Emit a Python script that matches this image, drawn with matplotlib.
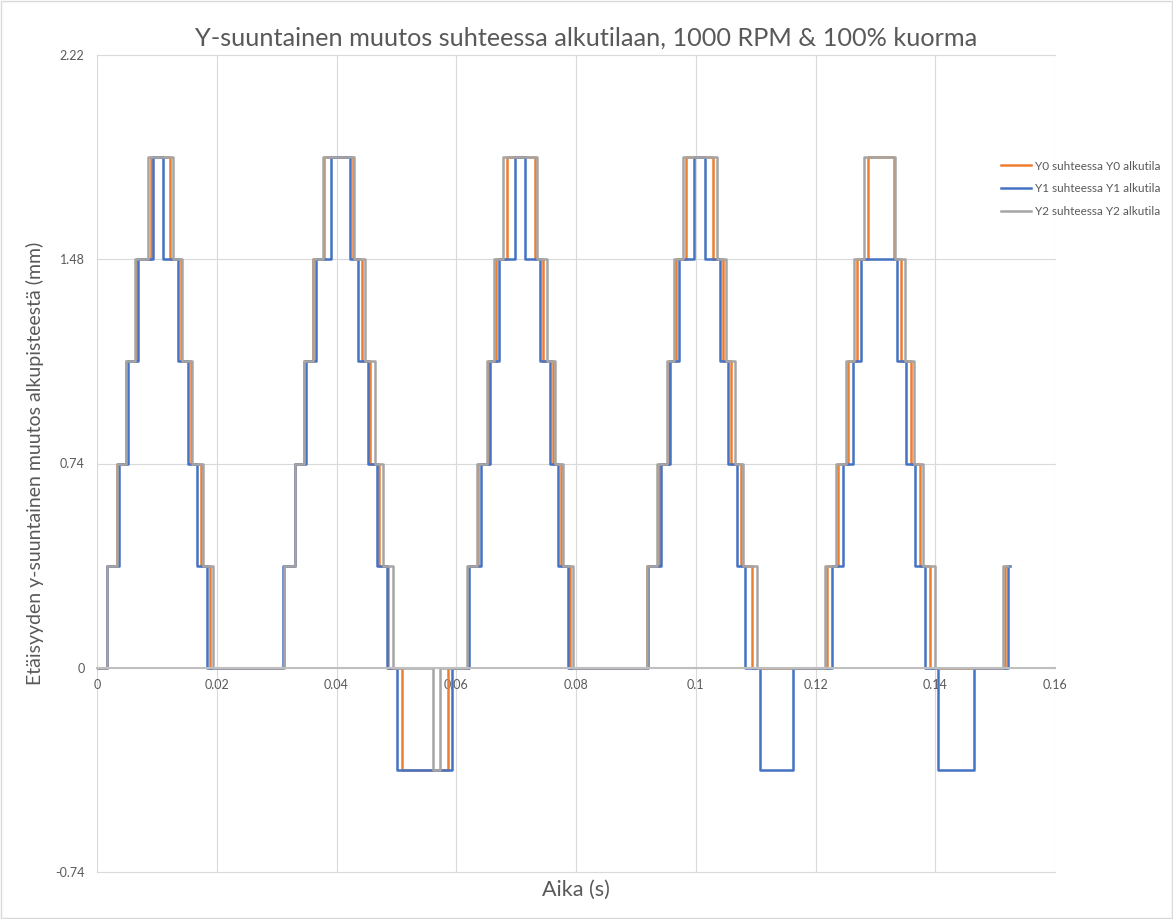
#!/usr/bin/env python3

import numpy as np
import matplotlib
matplotlib.use('Agg')
import matplotlib.pyplot as plt
from matplotlib.patches import Rectangle

# step change points (time in s) and the level that starts there (mm)
y0_t = [0, 0.00165, 0.0034, 0.0049, 0.00645, 0.00902, 0.01219, 0.01398, 0.01565, 0.01737, 0.01887,
        0.0312, 0.03307, 0.0346, 0.0361, 0.03796, 0.04281, 0.04421, 0.0456, 0.04715, 0.04865, 0.05089, 0.05867,
        0.06188, 0.06363, 0.0653, 0.06664, 0.06843, 0.07315, 0.07454, 0.07621, 0.0775, 0.079,
        0.09186, 0.09391, 0.09548, 0.0967, 0.09832, 0.10293, 0.1046, 0.10589, 0.10751, 0.10935,
        0.12187, 0.12381, 0.12538, 0.12688, 0.12872, 0.13311, 0.13428, 0.13595, 0.13745, 0.13912,
        0.15165, 0.1521]
y0_v = [0, 0.37, 0.74, 1.11, 1.48, 1.85, 1.48, 1.11, 0.74, 0.37, 0,
        0.37, 0.74, 1.11, 1.48, 1.85, 1.48, 1.11, 0.74, 0.37, 0, -0.37, 0,
        0.37, 0.74, 1.11, 1.48, 1.85, 1.48, 1.11, 0.74, 0.37, 0,
        0.37, 0.74, 1.11, 1.48, 1.85, 1.48, 1.11, 0.74, 0.37, 0,
        0.37, 0.74, 1.11, 1.48, 1.85, 1.48, 1.11, 0.74, 0.37, 0,
        0.37, 0.37]

y1_t = [0, 0.00162, 0.00372, 0.00523, 0.0068, 0.0094, 0.01097, 0.01358, 0.01525, 0.01675, 0.01832,
        0.03111, 0.03315, 0.0349, 0.03653, 0.03908, 0.04225, 0.04364, 0.04531, 0.04681, 0.04838, 0.05005, 0.05924,
        0.06218, 0.06408, 0.06564, 0.06719, 0.06981, 0.07148, 0.07399, 0.07566, 0.07704, 0.07871,
        0.09208, 0.09415, 0.0957, 0.09725, 0.09971, 0.10154, 0.10405, 0.10544, 0.10694, 0.10823, 0.11081, 0.11616,
        0.12271, 0.12454, 0.12621, 0.1276, 0.13356, 0.13511, 0.13662, 0.13829, 0.14051, 0.14647,
        0.1522, 0.1525]
y1_v = [0, 0.37, 0.74, 1.11, 1.48, 1.85, 1.48, 1.11, 0.74, 0.37, 0,
        0.37, 0.74, 1.11, 1.48, 1.85, 1.48, 1.11, 0.74, 0.37, 0, -0.37, 0,
        0.37, 0.74, 1.11, 1.48, 1.85, 1.48, 1.11, 0.74, 0.37, 0,
        0.37, 0.74, 1.11, 1.48, 1.85, 1.48, 1.11, 0.74, 0.37, 0, -0.37, 0,
        0.37, 0.74, 1.11, 1.48, 1.11, 0.74, 0.37, 0, -0.37, 0,
        0.37, 0.37]

y2_t = [0, 0.00162, 0.00329, 0.00479, 0.00635, 0.00857, 0.01264, 0.01415, 0.01582, 0.01775, 0.01932,
        0.03128, 0.03307, 0.03462, 0.03613, 0.0378, 0.04292, 0.04476, 0.04643, 0.04782, 0.04949, 0.05607, 0.05729,
        0.06175, 0.06352, 0.06509, 0.06636, 0.06786, 0.07354, 0.07511, 0.07649, 0.07788, 0.07945,
        0.09181, 0.09358, 0.09515, 0.09642, 0.09792, 0.1035, 0.10505, 0.10656, 0.10794, 0.11018,
        0.12159, 0.12342, 0.12504, 0.12648, 0.12815, 0.13328, 0.13495, 0.1365, 0.138, 0.13996,
        0.15137, 0.1521]
y2_v = [0, 0.37, 0.74, 1.11, 1.48, 1.85, 1.48, 1.11, 0.74, 0.37, 0,
        0.37, 0.74, 1.11, 1.48, 1.85, 1.48, 1.11, 0.74, 0.37, 0, -0.37, 0,
        0.37, 0.74, 1.11, 1.48, 1.85, 1.48, 1.11, 0.74, 0.37, 0,
        0.37, 0.74, 1.11, 1.48, 1.85, 1.48, 1.11, 0.74, 0.37, 0,
        0.37, 0.74, 1.11, 1.48, 1.85, 1.48, 1.11, 0.74, 0.37, 0,
        0.37, 0.37]

series_labels = ['Y0 suhteessa Y0 alkutila', 'Y1 suhteessa Y1 alkutila', 'Y2 suhteessa Y2 alkutila']
series_colors = ['#ED7D31', '#4472C4', '#A5A5A5']

x_ticks = [0, 0.02, 0.04, 0.06, 0.08, 0.1, 0.12, 0.14, 0.16]
x_tick_labels = ['0', '0.02', '0.04', '0.06', '0.08', '0.1', '0.12', '0.14', '0.16']
y_ticks = [-0.74, 0, 0.74, 1.48, 2.22]
y_tick_labels = ['-0.74', '0', '0.74', '1.48', '2.22']

title = 'Y-suuntainen muutos suhteessa alkutilaan, 1000 RPM & 100% kuorma'
xlabel = 'Aika (s)'
ylabel = 'Etäisyyden y-suuntainen muutos alkupisteestä (mm)'


def main():
    plt.rcParams['font.family'] = ['Lato', 'DejaVu Sans']
    txt = '#595959'

    W, H = 1173, 919
    fig = plt.figure(figsize=(W / 100, H / 100), dpi=100)
    ax = fig.add_axes([97 / W, 1 - 872 / H, (1055 - 97) / W, (872 - 55) / H])

    data = [(y0_t, y0_v), (y1_t, y1_v), (y2_t, y2_v)]
    for (t, v), c, lab in zip(data, series_colors, series_labels):
        ax.plot(t, v, drawstyle='steps-post', color=c, linewidth=1.8, label=lab)

    ax.set_xlim(0, 0.16)
    ax.set_ylim(-0.74, 2.22)
    ax.set_xticks(x_ticks)
    ax.set_xticklabels(x_tick_labels)
    ax.set_yticks(y_ticks)
    ax.set_yticklabels(y_tick_labels)
    ax.grid(True, color='#D9D9D9', linewidth=0.8)
    ax.set_axisbelow(True)
    for gl in ax.yaxis.get_gridlines() + ax.xaxis.get_gridlines():
        gl.set_clip_on(False)

    for s in ['top', 'left', 'right']:
        ax.spines[s].set_visible(False)
    ax.spines['bottom'].set_position(('data', 0))
    ax.spines['bottom'].set_color('#BFBFBF')
    ax.spines['bottom'].set_linewidth(1.5)
    ax.tick_params(axis='both', length=0, colors=txt, labelsize=9)
    ax.tick_params(axis='x', pad=8)
    ax.tick_params(axis='y', pad=9)

    fig.text(0.5, 1 - 38 / H, title, ha='center', va='center', fontsize=18.2, color=txt)
    fig.text(576 / W, 1 - 890 / H, xlabel, ha='center', va='center', fontsize=15.5, color=txt)
    fig.text(35 / W, 1 - 463 / H, ylabel, ha='center', va='center', rotation=90,
             fontsize=14, color=txt)

    fig.legend(loc='upper left', bbox_to_anchor=(990 / W, 1 - 150 / H), frameon=False,
               fontsize=8.5, labelcolor=txt, handlelength=2.6, handletextpad=0.3,
               labelspacing=1.0)

    fig.patches.append(Rectangle((0.001, 0.001), 0.998, 0.998, transform=fig.transFigure,
                                 fill=False, edgecolor='#D9D9D9', linewidth=1))

    fig.savefig('out.png', dpi=100)


if __name__ == '__main__':
    main()
